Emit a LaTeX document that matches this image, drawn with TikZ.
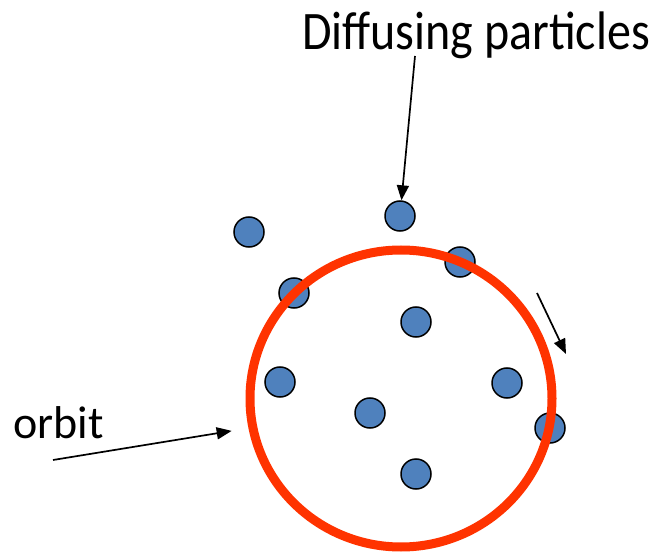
\documentclass[tikz,border=0pt]{standalone}
\usepackage{fontspec}
\setmainfont{Carlito}
\usepackage{tikz}
\usetikzlibrary{shapes.geometric, arrows.meta, positioning}
\definecolor{partblue}{HTML}{4F81BD}
\definecolor{orbitred}{HTML}{FF3300}
\tikzstyle{particle} = [
  circle, draw=black, fill=partblue, line width=1.5pt,
  minimum size=30pt, inner sep=0pt
]
\tikzstyle{orbit} = [
  ellipse, draw=orbitred, line width=9pt,
  minimum width=302pt, minimum height=297pt, inner sep=0pt
]
\tikzstyle{label} = [font=\fontsize{46}{55}\selectfont, inner sep=0pt]
\tikzstyle{arrow} = [-{Triangle[length=15pt, width=12pt]}, line width=1.7pt]

\begin{document}
\begin{tikzpicture}[x=1pt, y=-1pt]
  \useasboundingbox (0,0) rectangle (656,553);

  \node[particle] (p1) at (249, 232) {};
  \node[particle] (p2) at (400, 216) {};
  \node[particle] (p3) at (460, 262) {};
  \node[particle] (p4) at (294, 293) {};
  \node[particle] (p5) at (416, 322) {};
  \node[particle] (p6) at (280, 382) {};
  \node[particle] (p7) at (507, 383) {};
  \node[particle] (p8) at (370, 413) {};
  \node[particle] (p9) at (550, 428) {};
  \node[particle] (p10) at (416, 474) {};

  \node[orbit] (orbit) at (401, 398.5) {};

  \node[label, font=\fontsize{48}{58}\selectfont, anchor=base west] (diffusing) at (302, 50) {\scalebox{1}[1.13]{Diffusing particles}};
  \node[label, anchor=base west] (orblabel) at (13, 438) {orbit};

  \coordinate (difftail) at (415, 56);
  \coordinate (orbtail) at (53, 460);
  \coordinate (movestart) at (537, 293);
  \coordinate (moveend) at (566, 354);

  \draw[arrow] (difftail) -- (p2);
  \draw[arrow, shorten >=17pt] (orbtail) -- (orbit.191);
  \draw[arrow] (movestart) -- (moveend);

\end{tikzpicture}
\end{document}
